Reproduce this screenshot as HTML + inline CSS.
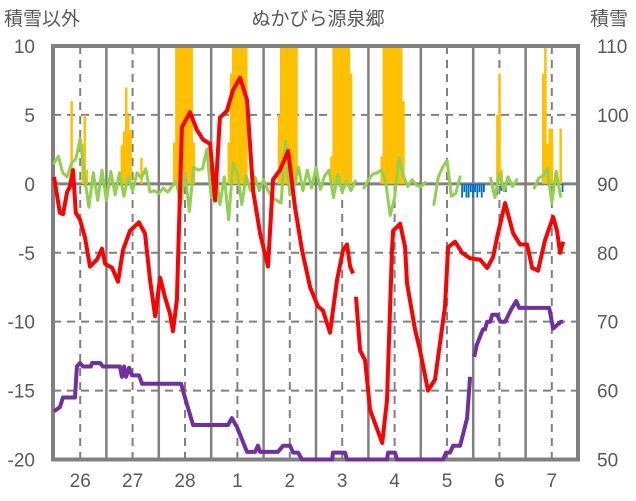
<!DOCTYPE html>
<html><head><meta charset="utf-8">
<style>
html,body{margin:0;padding:0;background:#fff;}
svg{display:block;font-family:"Liberation Sans","Noto Sans CJK JP",sans-serif;}
</style></head>
<body>
<svg id="chart" width="636" height="501" viewBox="0 0 636 501" xmlns="http://www.w3.org/2000/svg">
<text x="318" y="25" text-anchor="middle" font-size="19" fill="#595959">ぬかびら源泉郷</text>
<text x="4" y="25" font-size="19" fill="#595959">積雪以外</text>
<text x="590" y="25" font-size="19" fill="#595959">積雪</text>
<g id="grid"></g>
<g id="bars"></g>
<g id="frame"></g>
<g id="lines"></g>
<g id="labels"></g>
</svg>
<script>
const dayLabels=["26","27","28","1","2","3","4","5","6","7"];
const leftTicks=[10,5,0,-5,-10,-15,-20];
const rightTicks=[110,100,90,80,70,60,50];
// temperature (red): hours since 26th 00:00 and values; null = gap
const tempHours=[0,2.7,4.1,6,7.3,8.7,10,11.9,14.2,16.5,19.7,22,23.4,26.6,29.3,31.6,34.8,38.9,41.7,44,46.3,48.6,50.8,53.1,54.5,56.3,58.6,62.3,65.5,68.3,71.5,73.8,76,79.2,82,85.2,88.4,91.2,94.4,98,100.3,103.5,107.2,110.4,113.6,117.3,120.9,123.2,126.4,129.6,132.4,134.2,135.6,137,137.6,138.3,140.2,142.5,144.8,150.3,152.5,154.8,155.3,158.5,160.8,161.7,165.4,167.7,171.3,174.5,179.1,180.5,183.7,186.9,190.6,195.1,198.4,201.1,202.9,206.6,210.3,213.5,216.7,219,221.7,224.9,228.6,230.4,231.8,233.2];
const tempVals=[0.5,-2.1,-2.2,-0.6,-0.2,1.0,-2.1,-2.6,-3.9,-6.0,-5.5,-4.7,-5.8,-6.1,-7.1,-4.8,-3.4,-2.8,-3.6,-7.0,-9.6,-6.8,-8.2,-9.4,-10.7,-8.4,4.1,5.2,3.9,3.2,2.9,-1.2,4.8,5.3,6.8,7.7,6.1,-0.5,-3.6,-6.0,0.3,1.0,2.4,-1.7,-4.8,-7.5,-8.9,-9.2,-10.8,-7.0,-4.8,-4.4,-6.0,-6.5,null,-8.2,-12.1,-12.8,-16.4,-18.8,-15.7,-4.8,-3.4,-2.9,-4.6,-7.2,-10.6,-12.1,-15.0,-14.2,-8.9,-4.6,-4.2,-5.0,-5.4,-5.5,-6.1,-5.3,-3.9,-1.4,-3.6,-4.4,-4.4,-6.1,-6.3,-4.1,-2.4,-3.4,-5.0,-4.2];
// snow depth (purple, right axis)
const snowHours=[0,2.7,4.1,9.6,10.5,11.9,13.3,16.9,17.4,21.1,22.4,30.2,31.1,32.1,33.0,34.4,35.7,39,40.3,58.2,60.5,63.7,79.7,81.5,83.8,88.4,92.1,93.4,94.4,102.6,104.9,108.1,109.5,111.8,113.6,127.4,127.8,133.3,134.2,152.5,153,156.2,157.1,178.2,179.6,181.4,182.8,186,189.2,190.6,191.5,192.5,193.6,196.5,197.4,198.4,199.8,200.7,203,204.4,206.6,209.4,211.7,213.1,226.8,228.6,230.4,232.3,233.2];
const snowVals=[57,57.6,59,59,63.5,64,63.5,63.5,64,64,63.5,63.5,62,63.5,62,63.3,62.2,62.2,61,61,58.4,55,55,56,54.7,51.1,51.1,52,51.1,51.1,52,52,51,51,50,50,51,51,50,50,51,51,50,50,51,51,52,52,56,62,null,64.9,66.6,68.9,68.9,70,70,71,71,70,70,71.8,73,72,72,69,69.5,70,70];
// green (2-hour steps)
const greenVals=[1.5,2.0,0.8,0.5,1.5,1.8,3.3,0.5,-1.7,0.8,-1.2,1.0,
-1.2,0.9,-0.8,0.8,-0.9,0.5,-0.5,0.8,0.4,1.1,-0.6,-0.5,
-0.7,-0.3,-0.6,-0.2,0.2,-1.5,0.8,-2.0,1.2,1.0,1.1,2.5,
-1.0,0.8,-1.5,0.5,-2.6,1.5,0.8,-1.5,0.6,-0.5,0.5,-0.5,
0.3,-0.5,-1.0,-1.2,-1.4,3.1,-0.8,0.0,1.2,-0.5,1.0,-0.3,
1.2,-0.4,0.6,1.0,-1.0,0.7,-0.6,0.2,-0.5,0.2,null,-0.3,
0.3,0.7,0.8,1.0,0.0,-2.3,-1.0,1.9,0.6,-0.2,0.3,-0.1,
-0.2,0.1,null,-1.5,0.5,1.2,1.7,-0.9,-0.7,0.5,null,null,
null,null,null,null,0.4,-1.0,0.8,-0.5,0.5,-0.2,0.3,null,
null,null,-0.3,0.4,0.6,1.1,-1.4,0.9,-0.9,null,null,null];
// precipitation (orange) hourly
const precipHours=[8,13,14,15,31,32,33,34,35,40,55,56,57,58,59,60,61,62,63,64,80,81,82,83,84,85,86,87,88,103,104,105,106,107,108,109,110,111,127,128,129,130,131,132,133,134,135,136,150,151,152,153,154,155,156,157,158,159,160,203,204,205,224,225,226,227,228,232];
const precipVals=[6,2.9,5,1,2.8,3.8,7,5,3.9,1.9,3,15,15,15,15,15,15,15,15,3,3,8,15,15,15,15,15,15,15,5,15,15,15,15,15,15,15,15,2,15,15,15,15,15,15,15,15,8,2,15,15,15,15,15,15,15,15,15,6,5,8,1,8,15,2.9,4,4,4];
// blue (negative) hourly
const blueHours=[187,188,189,190,191,192,193,194,195,196,197,201,203,205,207,233];
const blueVals=[-1,-0.6,-1,-1,-0.6,-1,-0.6,-1,-0.6,-1,-0.6,-0.6,-0.8,-0.5,-0.6,-0.6];

const X0=54,DAYW=52.4,TOP=46,BOT=459.5,LEFT=53,RIGHT=578;
const xh=h=>X0+h*DAYW/24;
const yL=v=>TOP+(10-v)*(BOT-TOP)/30;
const yR=s=>yL((s-90)/2);
const NS="http://www.w3.org/2000/svg";
function mk(tag,attrs,parent){const e=document.createElementNS(NS,tag);for(const k in attrs)e.setAttribute(k,attrs[k]);parent.appendChild(e);return e;}
const grid=document.getElementById('grid'),bars=document.getElementById('bars'),lines=document.getElementById('lines'),frame=document.getElementById('frame'),labels=document.getElementById('labels');

leftTicks.forEach(v=>{
  if(v===10||v===-20)return;
  const l=mk('line',{x1:LEFT,x2:RIGHT,y1:yL(v),y2:yL(v),stroke:'#808080','stroke-width':v===0?3:2,'stroke-dasharray':v===0?'none':'8,6'},grid);
  
  
});
for(let d=0;d<10;d++){
  const xd=xh(d*24+12);
  const l=mk('line',{x1:xd,x2:xd,y1:TOP,y2:BOT,stroke:'#808080','stroke-width':2,'stroke-dasharray':'8,6'},grid);
  
  
  if(d>0){
    const xm=xh(d*24);
    const m=mk('line',{x1:xm,x2:xm,y1:TOP,y2:BOT,stroke:'#808080','stroke-width':2.5},grid);
    
    
  }
  const t=mk('text',{x:xd,y:487,'text-anchor':'middle','font-size':19,fill:'#595959'},labels);
  t.textContent=dayLabels[d];
  
  
}
const bw=DAYW/24;
precipHours.forEach((h,i)=>{
  const v=Math.min(precipVals[i],10);
  const r=mk('rect',{x:xh(h)-bw/2,y:yL(v),width:bw+0.3,height:yL(0)-yL(v),fill:'#FFC000'},bars);
  
  
});
blueHours.forEach((h,i)=>{
  const r=mk('rect',{x:xh(h)-bw/2,y:yL(0),width:bw-0.4,height:yL(blueVals[i])-yL(0),fill:'#0070C0'},bars);
  
  
});
function pathFrom(hours,vals,yf){
  let d='',pen=false;
  hours.forEach((h,i)=>{const v=vals[i];if(v===null){pen=false;return;}d+=(pen?'L':'M')+xh(h).toFixed(1)+','+yf(v).toFixed(1);pen=true;});
  return d;
}
const f=mk('rect',{x:LEFT,y:TOP,width:RIGHT-LEFT,height:BOT-TOP,fill:'none',stroke:'#808080','stroke-width':4},frame);


const greenHours=greenVals.map((_,i)=>i*2);
const g=mk('path',{d:pathFrom(greenHours,greenVals,yL),fill:'none',stroke:'#92D050','stroke-width':3,'stroke-linejoin':'round','stroke-linecap':'round'},lines);


const p=mk('path',{d:pathFrom(snowHours,snowVals,yR),fill:'none',stroke:'#7030A0','stroke-width':4,'stroke-linejoin':'round'},lines);


const r=mk('path',{d:pathFrom(tempHours,tempVals,yL),fill:'none',stroke:'#FF0000','stroke-width':4,'stroke-linejoin':'round'},lines);


leftTicks.forEach(v=>{
  const t=mk('text',{x:35,y:yL(v)+7,'text-anchor':'end','font-size':19,fill:'#595959'},labels);
  t.textContent=String(v);
  
  
});
rightTicks.forEach(s=>{
  const t=mk('text',{x:597,y:yR(s)+7,'text-anchor':'start','font-size':19,fill:'#595959'},labels);
  t.textContent=String(s);
  
  
});
</script>
</body></html>
